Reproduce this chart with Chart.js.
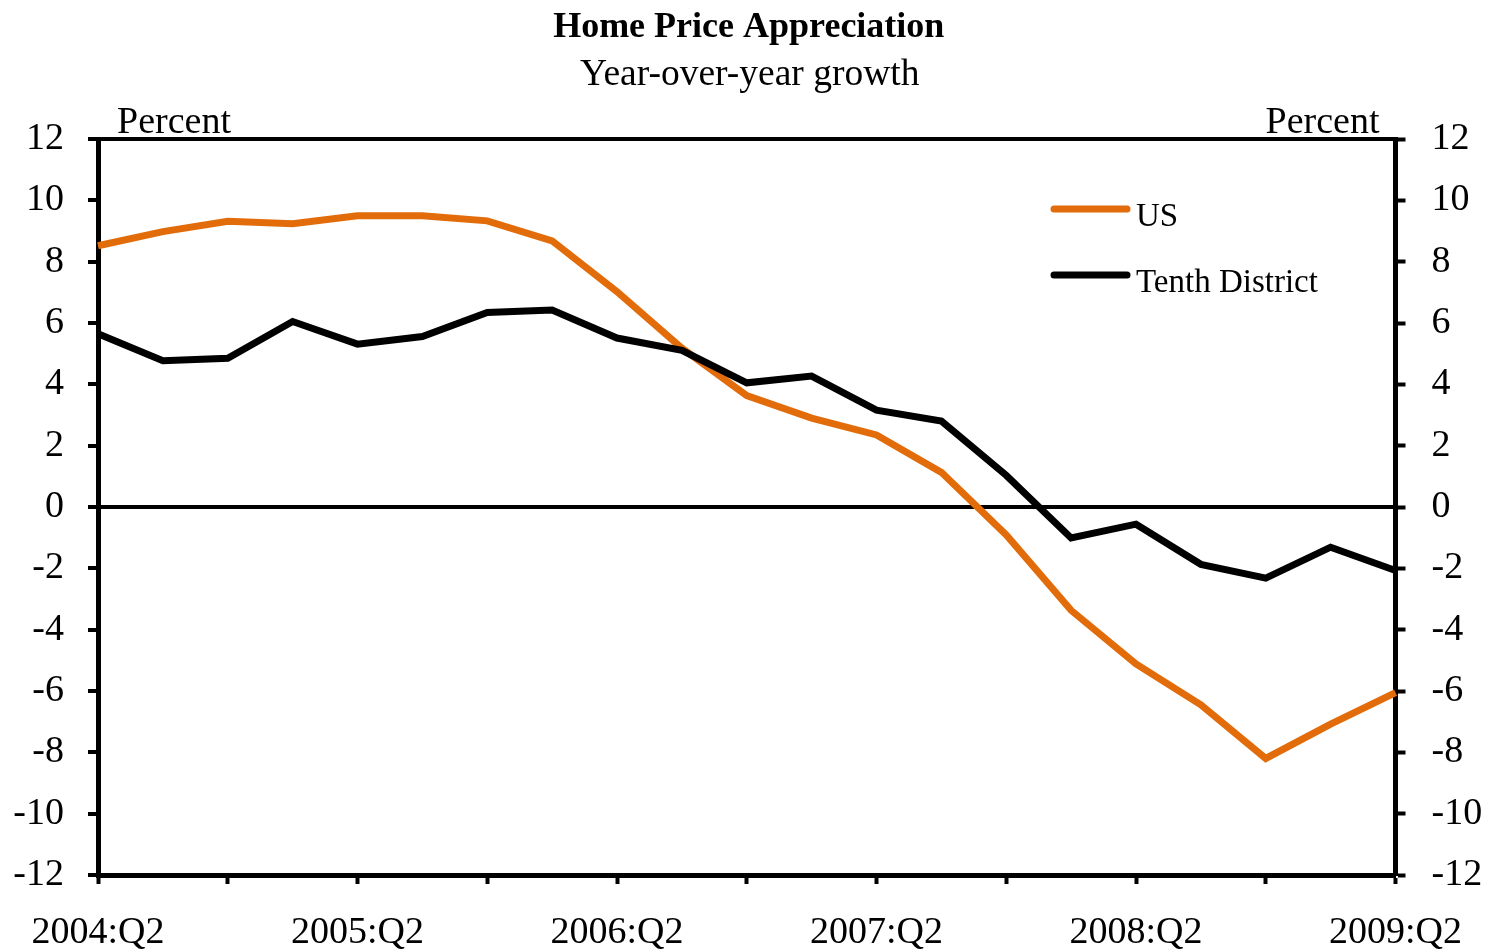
<!DOCTYPE html>
<html>
<head>
<meta charset="utf-8">
<title>Home Price Appreciation</title>
<script src="https://cdn.jsdelivr.net/npm/chart.js@4.4.1/dist/chart.umd.min.js"></script>
<style>
  html, body { margin: 0; padding: 0; background: #fff; }
  #wrap { width: 1488px; height: 952px; position: relative; }
</style>
</head>
<body>
<div id="wrap"><canvas id="hpaChart"></canvas></div>
<script>
// quarters 2004:Q2 .. 2009:Q2
const quarters = [
  '2004:Q2', '2004:Q3', '2004:Q4', '2005:Q1',
  '2005:Q2', '2005:Q3', '2005:Q4', '2006:Q1',
  '2006:Q2', '2006:Q3', '2006:Q4', '2007:Q1',
  '2007:Q2', '2007:Q3', '2007:Q4', '2008:Q1',
  '2008:Q2', '2008:Q3', '2008:Q4', '2009:Q1',
  '2009:Q2'
];

const usGrowth = [
  8.52, 8.98, 9.32, 9.24, 9.50, 9.50, 9.33, 8.68,
  7.02, 5.18, 3.63, 2.90, 2.35, 1.13, -0.91, -3.37,
  -5.12, -6.45, -8.20, -7.08, -6.05
];

const tenthGrowth = [
  5.65, 4.77, 4.85, 6.05, 5.31, 5.56, 6.34, 6.42,
  5.51, 5.11, 4.05, 4.27, 3.16, 2.80, 1.03, -1.01,
  -0.56, -1.87, -2.32, -1.31, -2.07
];

const seriesNames = ['US', 'Tenth District'];
const yMin = -12, yMax = 12, yStep = 2;

const FONT = "'Liberation Serif', 'Times New Roman', serif";
const ORANGE = '#E36C0A';

// title, subtitle, "Percent" labels and the legend box
const decorations = {
  id: 'decorations',
  afterDraw(chart) {
    const c = chart.ctx;
    const area = chart.chartArea;
    const mid = (area.left + area.right) / 2;
    c.save();
    c.fillStyle = '#000';
    c.textBaseline = 'alphabetic';

    c.font = 'bold 36px ' + FONT;
    c.textAlign = 'center';
    c.fillText('Home Price Appreciation', mid + 2, 37);
    c.font = '37.5px ' + FONT;
    c.fillText('Year-over-year growth', mid + 3, 85);

    c.font = '38px ' + FONT;
    c.textAlign = 'left';
    c.fillText('Percent', area.left + 19, 133);
    c.textAlign = 'right';
    c.fillText('Percent', area.right - 16, 133);

    // legend
    const legendOrder = [0, 1];
    legendOrder.forEach((di, k) => {
      const ds = chart.data.datasets[di];
      const y = 209 + k * 66;
      c.strokeStyle = ds.borderColor;
      c.lineWidth = 7;
      c.lineCap = 'round';
      c.beginPath();
      c.moveTo(1054, y);
      c.lineTo(1127, y);
      c.stroke();
      c.textAlign = 'left';
      c.fillStyle = '#000';
      c.font = '33px ' + FONT;
      c.fillText(ds.label, 1136, y + 17);
    });
    c.restore();
  }
};

const ctx = document.getElementById('hpaChart');

const hpaChart = new Chart(ctx, {
  type: 'line',
  data: {
    labels: quarters,
    datasets: [{
      label: seriesNames[0],
      data: usGrowth,
      borderColor: ORANGE,
      backgroundColor: ORANGE,
      borderWidth: 7,
      pointRadius: 0,
      tension: 0,
      order: 1
    },
    {
      label: seriesNames[1],
      data: tenthGrowth,
      borderColor: '#000',
      backgroundColor: '#000',
      borderWidth: 7,
      pointRadius: 0,
      tension: 0,
      order: 0
    }]
  },
  options: {
    responsive: true,
    maintainAspectRatio: false,
    animation: false,
    layout: {
      padding: { top: 139, left: 0, right: 0, bottom: 0 }
    },
    plugins: {
      legend: { display: false },
      title: { display: false },
      tooltip: { enabled: false }
    },
    scales: {
      x: {
        type: 'category',
        position: 'bottom',
        offset: false,
        afterFit: (scale) => { scale.height = 77; },
        border: { display: true, color: '#000', width: 5 },
        grid: {
          drawOnChartArea: false,
          drawTicks: true,
          tickLength: 9,
          tickWidth: 4,
          tickColor: (c) => (c.index % 2 === 0 ? '#000' : 'rgba(0,0,0,0)')
        },
        ticks: {
          autoSkip: false,
          maxRotation: 0,
          minRotation: 0,
          padding: 26,
          color: '#000',
          font: { family: FONT, size: 38 },
          callback: function (val, index) {
            return index % 4 === 0 ? this.getLabelForValue(val) : '';
          }
        }
      },
      xTop: {
        type: 'category',
        position: 'top',
        afterFit: (scale) => { scale.height = 0; },
        border: { display: true, color: '#000', width: 4 },
        grid: { display: false },
        ticks: { display: false }
      },
      y: {
        position: 'left',
        min: yMin,
        max: yMax,
        afterFit: (scale) => { scale.width = 98; },
        border: { display: true, color: '#000', width: 5 },
        grid: {
          drawOnChartArea: true,
          color: (c) => (c.tick && c.tick.value === 0 ? '#000' : 'rgba(0,0,0,0)'),
          lineWidth: 4,
          drawTicks: true,
          tickLength: 10,
          tickWidth: 4,
          tickColor: '#000'
        },
        ticks: {
          stepSize: yStep,
          padding: 24,
          color: '#000',
          font: { family: FONT, size: 38 }
        }
      },
      y2: {
        position: 'right',
        min: yMin,
        max: yMax,
        afterFit: (scale) => { scale.width = 90; },
        border: { display: true, color: '#000', width: 5 },
        grid: {
          drawOnChartArea: false,
          drawTicks: true,
          tickLength: 10,
          tickWidth: 4,
          tickColor: '#000'
        },
        ticks: {
          stepSize: yStep,
          padding: 26,
          color: '#000',
          font: { family: FONT, size: 38 }
        }
      }
    }
  },
  plugins: [decorations]
});
</script>
</body>
</html>
